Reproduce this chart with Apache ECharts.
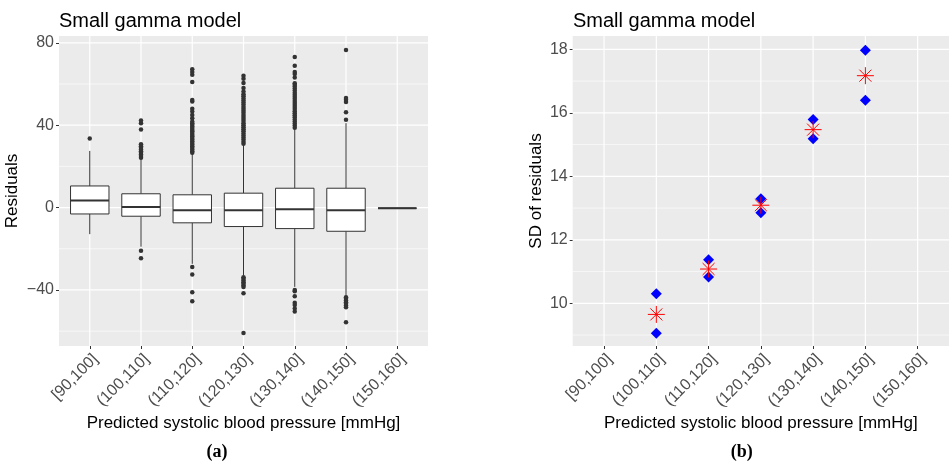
<!DOCTYPE html>
<html><head><meta charset="utf-8">
<script src="https://cdn.jsdelivr.net/npm/echarts@6/dist/echarts.min.js"></script>
<style>html,body{margin:0;padding:0;background:#fff}#c{width:949px;height:469px}</style>
</head><body><div id="c"></div>
<script>
const categories = ["[90,100]", "(100,110]", "(110,120]", "(120,130]", "(130,140]", "(140,150]", "(150,160]"];

// Panel (a): boxplot statistics of residuals
const boxLower  = [-12.9, -19.0, -27.3, -32.8, -38.5, -42.8, -0.3];
const boxQ1     = [-3.1, -4.2, -7.4, -9.2, -10.2, -11.5, -0.3];
const boxMedian = [3.4, 0.3, -1.3, -1.3, -0.8, -1.3, -0.3];
const boxQ3     = [10.5, 6.7, 6.2, 7.0, 9.4, 9.4, -0.3];
const boxUpper  = [27.5, 23.5, 26.0, 30.3, 38.0, 41.0, -0.3];

// Panel (a): outliers per group
const outliers0 = [33.5];
const outliers1 = [24.2, 25.0, 25.8, 26.6, 27.4, 28.2, 29.0, 29.8, 30.8, 37.9, 41.0, 42.3, -20.9, -24.6];
const outliers2 = [26.6, 27.4, 28.2, 29.0, 29.8, 30.6, 31.4, 32.2, 33.0, 33.8, 34.6, 35.4, 36.2, 37.0, 37.8, 38.6, 39.4, 40.2, 41.0, 41.8, 43.4, 45.0, 46.6, 48.0, 51.5, 52.2, 61.0, 64.5, 65.8, 67.2, -28.8, -32.5, -41.1, -45.5];
const outliers3 = [31.0, 32.0, 33.0, 34.0, 35.0, 36.0, 37.0, 38.0, 39.0, 40.0, 41.0, 42.0, 43.0, 44.0, 45.0, 46.0, 47.0, 48.0, 49.0, 50.0, 51.0, 52.0, 53.0, 54.0, 55.0, 56.4, 58.0, 60.5, 62.6, 64.0, -33.8, -34.6, -35.4, -36.2, -37.0, -37.8, -38.6, -41.6, -60.9];
const outliers4 = [38.8, 39.8, 40.8, 41.8, 42.8, 43.8, 44.8, 45.8, 46.8, 47.8, 48.8, 49.8, 50.8, 51.8, 52.8, 53.8, 54.8, 55.8, 56.8, 57.8, 58.8, 59.6, 60.4, 63.2, 64.8, 65.8, 68.9, 73.1, -40.0, -40.6, -43.1, -46.2, -47.3, -49.0, -50.4];
const outliers5 = [42.6, 46.3, 51.2, 52.3, 53.2, 76.5, -43.5, -44.3, -45.1, -45.9, -46.7, -47.5, -48.4, -55.7];
const outliers6 = [];

const residualTicks = [-40, 0, 40, 80];
const residualMinor = [-60, -20, 20, 60];

// Panel (b): SD of residuals
const sdSplitA = [null, 9.06, 10.83, 12.85, 15.18, 16.40, null];
const sdSplitB = [null, 10.30, 11.37, 13.29, 15.79, 17.97, null];
const sdOverall = [null, 9.65, 11.08, 13.09, 15.47, 17.17, null];
const sdTicks = [10, 12, 14, 16, 18];
const sdMinor = [9, 11, 13, 15, 17];

const catIdx = categories.map((c, i) => i);
const outlierGroups = [outliers0, outliers1, outliers2, outliers3, outliers4, outliers5, outliers6];

const GRID_BG = '#EBEBEB';
const INK = '#333333';
const TICK_TXT = '#4D4D4D';
const FONT = '"Liberation Sans", Arial, sans-serif';

function hLines(width) {
  return function (params, api) {
    const cs = params.coordSys;
    const y = api.coord([0, api.value(1)])[1];
    return { type: 'line', shape: { x1: cs.x, y1: y, x2: cs.x + cs.width, y2: y },
      style: { stroke: '#FFFFFF', lineWidth: width } };
  };
}
function vLines(width) {
  return function (params, api) {
    const cs = params.coordSys;
    const x = api.coord([api.value(0), 0])[0];
    return { type: 'line', shape: { x1: x, y1: cs.y, x2: x, y2: cs.y + cs.height },
      style: { stroke: '#FFFFFF', lineWidth: width } };
  };
}
function renderBox(params, api) {
  const x = api.value(0);
  const lo = api.coord([x, api.value(1)]);
  const q1 = api.coord([x, api.value(2)]);
  const md = api.coord([x, api.value(3)]);
  const q3 = api.coord([x, api.value(4)]);
  const hi = api.coord([x, api.value(5)]);
  const w = api.size([0.75, 0])[0];
  const cx = lo[0];
  const st = { stroke: INK, lineWidth: 1 };
  return { type: 'group', children: [
    { type: 'line', shape: { x1: cx, y1: q3[1], x2: cx, y2: hi[1] }, style: st },
    { type: 'line', shape: { x1: cx, y1: q1[1], x2: cx, y2: lo[1] }, style: st },
    { type: 'rect', shape: { x: cx - w / 2, y: q3[1], width: w, height: q1[1] - q3[1] },
      style: { fill: '#FFFFFF', stroke: INK, lineWidth: 1 } },
    { type: 'line', shape: { x1: cx - w / 2, y1: md[1], x2: cx + w / 2, y2: md[1] },
      style: { stroke: INK, lineWidth: 2 } }
  ] };
}

function xAxisCfg(gi) {
  return {
    gridIndex: gi, type: 'value', min: -0.6, max: 6.6, position: 'bottom',
    axisLine: { show: false, onZero: false }, splitLine: { show: false },
    axisTick: { show: true, customValues: catIdx, length: 3, lineStyle: { color: INK, width: 1 } },
    axisLabel: { customValues: catIdx, formatter: v => categories[Math.round(v)] || '',
      rotate: 45, align: 'right', verticalAlign: 'top', margin: 5,
      color: TICK_TXT, fontSize: 16, fontFamily: FONT, lineHeight: 16 },
    name: 'Predicted systolic blood pressure [mmHg]', nameLocation: 'middle', nameGap: 69,
    nameMoveOverlap: false,
    nameTextStyle: { color: '#000000', fontSize: 17, fontFamily: FONT }
  };
}
function yAxisCfg(gi, min, max, ticks, name, gap) {
  return {
    gridIndex: gi, type: 'value', min: min, max: max, position: 'left',
    axisLine: { show: false, onZero: false }, splitLine: { show: false },
    axisTick: { show: true, customValues: ticks, length: 3, lineStyle: { color: INK, width: 1 } },
    axisLabel: { customValues: ticks, margin: 5, color: TICK_TXT, fontSize: 16, fontFamily: FONT,
      formatter: v => (v < 0 ? '\u2212' + Math.abs(v) : String(v)) },
    name: name, nameLocation: 'middle', nameGap: gap, nameRotate: 90, nameMoveOverlap: false,
    nameTextStyle: { color: '#000000', fontSize: 17, fontFamily: FONT }
  };
}

const starPath = 'path://M10,0L10,20M0,10L20,10M2.93,2.93L17.07,17.07M2.93,17.07L17.07,2.93';

const option = {
  animation: false,
  backgroundColor: '#FFFFFF',
  grid: [
    { left: 59, top: 36, width: 369, height: 310, show: true, backgroundColor: GRID_BG, borderWidth: 0, outerBoundsMode: 'none' },
    { left: 572.7, top: 36, right: 0, height: 310, show: true, backgroundColor: GRID_BG, borderWidth: 0, outerBoundsMode: 'none' }
  ],
  xAxis: [xAxisCfg(0), xAxisCfg(1)],
  yAxis: [
    yAxisCfg(0, -67.2, 83.3, residualTicks, 'Residuals', 38),
    yAxisCfg(1, 8.655, 18.42, sdTicks, 'SD of residuals', 28)
  ],
  graphic: [
    { type: 'text', left: 59, top: 11, style: { text: 'Small gamma model', font: '20px ' + FONT, fill: '#000000' } },
    { type: 'text', left: 573, top: 11, style: { text: 'Small gamma model', font: '20px ' + FONT, fill: '#000000' } },
    { type: 'text', x: 217, y: 452, style: { text: '(a)', font: 'bold 18px "Liberation Serif", "Times New Roman", serif', fill: '#000000', textAlign: 'center', textVerticalAlign: 'middle', align: 'center', verticalAlign: 'middle' } },
    { type: 'text', x: 741.7, y: 452, style: { text: '(b)', font: 'bold 18px "Liberation Serif", "Times New Roman", serif', fill: '#000000', textAlign: 'center', textVerticalAlign: 'middle', align: 'center', verticalAlign: 'middle' } }
  ],
  series: [
    // gridlines panel a
    { type: 'custom', xAxisIndex: 0, yAxisIndex: 0, z: 1, silent: true, renderItem: hLines(0.6), data: residualMinor.map(v => [0, v]) },
    { type: 'custom', xAxisIndex: 0, yAxisIndex: 0, z: 1, silent: true, renderItem: hLines(1.2), data: residualTicks.map(v => [0, v]) },
    { type: 'custom', xAxisIndex: 0, yAxisIndex: 0, z: 1, silent: true, renderItem: vLines(1.2), data: catIdx.map(i => [i, 0]) },
    // gridlines panel b
    { type: 'custom', xAxisIndex: 1, yAxisIndex: 1, z: 1, silent: true, renderItem: hLines(0.6), data: sdMinor.map(v => [0, v]) },
    { type: 'custom', xAxisIndex: 1, yAxisIndex: 1, z: 1, silent: true, renderItem: hLines(1.2), data: sdTicks.map(v => [0, v]) },
    { type: 'custom', xAxisIndex: 1, yAxisIndex: 1, z: 1, silent: true, renderItem: vLines(1.2), data: catIdx.map(i => [i, 10]) },
    // boxplots
    { type: 'custom', xAxisIndex: 0, yAxisIndex: 0, z: 3, renderItem: renderBox,
      encode: { x: 0, y: [1, 2, 3, 4, 5] },
      data: catIdx.map(i => [i, boxLower[i], boxQ1[i], boxMedian[i], boxQ3[i], boxUpper[i]]) },
    { type: 'scatter', xAxisIndex: 0, yAxisIndex: 0, z: 4, symbol: 'circle', symbolSize: 4.5,
      itemStyle: { color: INK, opacity: 1 },
      data: outlierGroups.flatMap((g, i) => g.map(v => [i, v])) },
    // panel b points
    { type: 'scatter', xAxisIndex: 1, yAxisIndex: 1, z: 4, symbol: 'diamond', symbolSize: [11, 11],
      itemStyle: { color: '#0000FF', opacity: 1 },
      data: catIdx.filter(i => sdSplitA[i] != null).map(i => [i, sdSplitA[i]]) },
    { type: 'scatter', xAxisIndex: 1, yAxisIndex: 1, z: 4, symbol: 'diamond', symbolSize: [11, 11],
      itemStyle: { color: '#0000FF', opacity: 1 },
      data: catIdx.filter(i => sdSplitB[i] != null).map(i => [i, sdSplitB[i]]) },
    { type: 'scatter', xAxisIndex: 1, yAxisIndex: 1, z: 5, symbol: starPath, symbolSize: 17,
      itemStyle: { color: 'rgba(0,0,0,0)', borderColor: '#FF0000', borderWidth: 1, opacity: 1 },
      data: catIdx.filter(i => sdOverall[i] != null).map(i => [i, sdOverall[i]]) }
  ]
};

const chart = echarts.init(document.getElementById('c'), null, { renderer: 'canvas' });
chart.setOption(option);
</script>
</body></html>
